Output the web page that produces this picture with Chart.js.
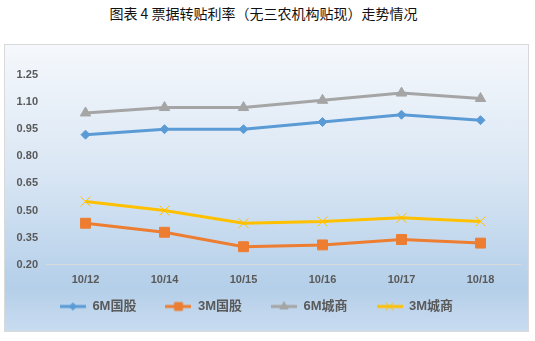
<!DOCTYPE html>
<html>
<head>
<meta charset="utf-8">
<script src="https://cdn.jsdelivr.net/npm/chart.js@4/dist/chart.umd.min.js"></script>
<style>
  body { margin: 0; background: #fff; width: 535px; height: 341px; position: relative; overflow: hidden; }
  #title {
    position: absolute; left: 0; top: 4px; width: 527px; text-align: center;
    font: 14px "Noto Sans CJK SC", sans-serif; color: #111; line-height: 18px;
  }
  #box {
    position: absolute; left: 4px; top: 44px; width: 523px; height: 286px;
    border: 1px solid #d9d9d9;
    background: linear-gradient(to bottom, #f5f8fc 0%, #d9e6f4 45%, #b4cfe9 85%, #c9dcf0 100%);
  }
</style>
</head>
<body>
<div id="title">图表 4 票据转贴利率（无三农机构贴现）走势情况</div>
<div id="box"><canvas id="c" width="523" height="286"></canvas></div>
<script>
// 日期
const dates = ['10/12', '10/14', '10/15', '10/16', '10/17', '10/18'];
// 利率 (%)
const gg6M = [0.92, 0.95, 0.95, 0.99, 1.03, 1.00];
const gg3M = [0.43, 0.38, 0.30, 0.31, 0.34, 0.32];
const cs6M = [1.04, 1.07, 1.07, 1.11, 1.15, 1.12];
const cs3M = [0.55, 0.50, 0.43, 0.44, 0.46, 0.44];

const textColor = '#595959';

const series = [
  { label: '6M国股', data: gg6M, color: '#5b9bd5', style: 'rectRot', r: 4.5 },
  { label: '3M国股', data: gg3M, color: '#ed7d31', style: 'rect', r: 7 },
  { label: '6M城商', data: cs6M, color: '#a5a5a5', style: 'triangle', r: 6 },
  { label: '3M城商', data: cs3M, color: '#ffc000', style: 'crossRot', r: 7 }
];

// 图例图标：线 + 标记
function makeIcon(s) {
  const cv = document.createElement('canvas');
  cv.width = 26; cv.height = 12;
  const ctx = cv.getContext('2d');
  ctx.strokeStyle = s.color;
  ctx.lineWidth = 3;
  ctx.beginPath(); ctx.moveTo(0, 6); ctx.lineTo(26, 6); ctx.stroke();
  ctx.fillStyle = s.color;
  ctx.lineWidth = 1;
  Chart.helpers.drawPoint(ctx, { pointStyle: s.style, radius: s.r * 0.8, borderWidth: 1, rotation: 0 }, 13, 6);
  return cv;
}
const icons = series.map(makeIcon);

// 把图例往上挪到坐标轴标签下方
const legendShift = {
  id: 'legendShift',
  afterLayout(chart) {
    const lg = chart.legend;
    lg.top = 226;
    lg.bottom = 286;
    lg.height = 60;
    lg.left -= 6;
    lg.right -= 6;
  }
};

new Chart(document.getElementById('c'), {
  type: 'line',
  data: {
    labels: dates,
    datasets: series.map(s => ({
      label: s.label,
      data: s.data,
      borderColor: s.color,
      backgroundColor: s.color,
      borderWidth: 3,
      pointStyle: s.style,
      pointRadius: s.r,
      pointBorderWidth: 1,
      fill: false,
      tension: 0
    }))
  },
  options: {
    responsive: false,
    animation: false,
    layout: { padding: { top: 30, right: 8, left: 0, bottom: 0 } },
    scales: {
      x: {
        offset: true,
        grid: { display: false, drawTicks: false },
        border: { display: true, color: '#d9d9d9', width: 1 },
        ticks: { color: textColor, font: { size: 11, weight: 'bold', family: 'Liberation Sans' }, padding: 9 }
      },
      y: {
        min: 0.2,
        max: 1.25,
        grid: { display: false, drawTicks: false },
        border: { display: false },
        ticks: {
          stepSize: 0.15,
          padding: 8,
          color: textColor,
          font: { size: 11, weight: 'bold', family: 'Liberation Sans' },
          callback: v => v.toFixed(2)
        },
        afterFit: s => { s.width = 41; }
      }
    },
    plugins: {
      tooltip: { enabled: false },
      legend: {
        position: 'bottom',
        maxHeight: 35,
        labels: {
          usePointStyle: true,
          pointStyleWidth: 26,
          padding: 29,
          color: textColor,
          font: { size: 13, weight: 'bold', family: "'Liberation Sans', 'Noto Sans CJK SC'" },
          generateLabels: chart => {
            const items = Chart.defaults.plugins.legend.labels.generateLabels(chart);
            items.forEach((it, i) => { it.pointStyle = icons[i]; });
            return items;
          }
        }
      }
    }
  },
  plugins: [legendShift]
});
</script>
</body>
</html>
